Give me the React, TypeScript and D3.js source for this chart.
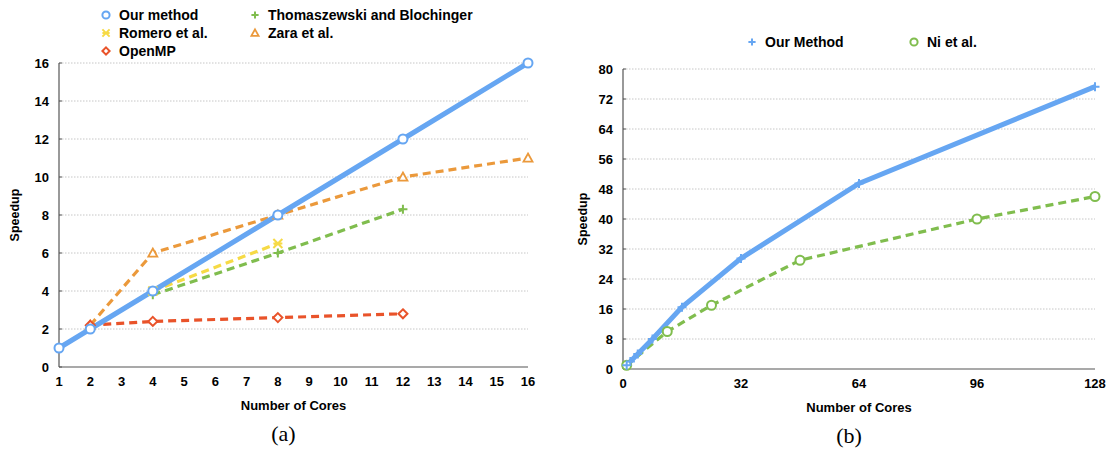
import * as d3 from 'd3';

// ---- data: panel (a)
const coresA = [1, 2, 4, 8, 12, 16];
const ourA = [1, 2, 4, 8, 12, 16];
const thomCores = [4, 8, 12];
const thomA = [3.8, 6, 8.3];
const romeroCores = [4, 8];
const romeroA = [4, 6.5];
const zaraCores = [2, 4, 8, 12, 16];
const zaraA = [2.2, 6, 8, 10, 11];
const ompCores = [2, 4, 8, 12];
const ompA = [2.2, 2.4, 2.6, 2.8];
const xTicksA = d3.range(1, 17);
const yTicksA = [0, 2, 4, 6, 8, 10, 12, 14, 16];

// ---- data: panel (b)
const coresB = [1, 2, 4, 8, 16, 32, 64, 128];
const ourB = [1, 2, 4, 8, 16.5, 29.5, 49.5, 75.3];
const niCores = [1, 12, 24, 48, 96, 128];
const niB = [1, 10, 17, 29, 40, 46];
const xTicksB = [0, 32, 64, 96, 128];
const yTicksB = [0, 8, 16, 24, 32, 40, 48, 56, 64, 72, 80];

const BLUE = '#66a6f2';
const GREEN = '#80bd4e';
const YELLOW = '#f6da45';
const ORANGE = '#eb993b';
const RED = '#e9532a';
const FONT = '"Liberation Sans", Arial, Helvetica, sans-serif';

type Pt = [number, number];
const zip = (xs: number[], ys: number[]): Pt[] => xs.map((x, i) => [x, ys[i]]);

function Marker({ kind, x, y, color, s = 4.5 }: { kind: string; x: number; y: number; color: string; s?: number }) {
  if (kind === 'circle')
    return <circle cx={x} cy={y} r={s} fill="#fff" stroke={color} strokeWidth={2} />;
  if (kind === 'plus')
    return (
      <path d={`M${x - s},${y}H${x + s}M${x},${y - s}V${y + s}`} stroke={color} strokeWidth={2} fill="none" />
    );
  if (kind === 'star')
    return (
      <path
        d={`M${x - s},${y - s}L${x + s},${y + s}M${x - s},${y + s}L${x + s},${y - s}M${x - s},${y}H${x + s}`}
        stroke={color}
        strokeWidth={2}
        fill="none"
      />
    );
  if (kind === 'tri')
    return (
      <path d={`M${x},${y - s}L${x + s},${y + s * 0.8}L${x - s},${y + s * 0.8}Z`} fill="#fff" stroke={color} strokeWidth={1.8} />
    );
  return <path d={`M${x},${y - s}L${x + s},${y}L${x},${y + s}L${x - s},${y}Z`} fill="#fff" stroke={color} strokeWidth={2} />;
}

interface Series {
  pts: Pt[];
  color: string;
  marker: string;
  solid?: boolean;
}

function Panel({
  left, right, top, bottom, xDomain, yDomain, xTicks, yTicks, series, titleX, caption,
}: {
  left: number; right: number; top: number; bottom: number;
  xDomain: [number, number]; yDomain: [number, number];
  xTicks: number[]; yTicks: number[]; series: Series[]; titleX: number; caption: string;
}) {
  const x = d3.scaleLinear().domain(xDomain).range([left, right]);
  const y = d3.scaleLinear().domain(yDomain).range([bottom, top]);
  const line = d3.line<Pt>().x((d) => x(d[0])).y((d) => y(d[1]));
  const ordered = [...series.filter((s) => !s.solid), ...series.filter((s) => s.solid)];
  return (
    <g>
      {yTicks.map((t) => (
        <g key={t}>
          {t > 0 && (
            <line x1={left} x2={right} y1={y(t)} y2={y(t)} stroke="#b8b8b8" strokeWidth={0.8} strokeDasharray="1.5,1.5" />
          )}
          <line x1={left} x2={left + 3} y1={y(t)} y2={y(t)} stroke="#555" />
          <text x={left - 10} y={y(t)} dy="0.35em" textAnchor="end" fontSize={13} fontWeight="bold">
            {t}
          </text>
        </g>
      ))}
      <line x1={left} x2={left} y1={top} y2={bottom} stroke="#555" strokeWidth={1.2} />
      <line x1={left} x2={right} y1={bottom} y2={bottom} stroke="#555" strokeWidth={1.2} />
      {xTicks.map((t) => (
        <text key={t} x={x(t)} y={bottom + 19} textAnchor="middle" fontSize={13} fontWeight="bold">
          {t}
        </text>
      ))}
      <text x={(left + right) / 2} y={bottom + 43} textAnchor="middle" fontSize={13} fontWeight="bold">
        Number of Cores
      </text>
      <text
        transform={`translate(${titleX},${(top + bottom) / 2}) rotate(-90)`}
        textAnchor="middle"
        fontSize={12.5}
        fontWeight="bold"
      >
        Speedup
      </text>
      {ordered.map((s, i) => (
        <path
          key={i}
          d={line(s.pts) || ''}
          fill="none"
          stroke={s.color}
          strokeWidth={s.solid ? 5 : 3.2}
          strokeDasharray={s.solid ? undefined : '8,5'}
        />
      ))}
      {ordered.map((s, i) =>
        s.pts.map((p, j) => <Marker key={`${i}-${j}`} kind={s.marker} x={x(p[0])} y={y(p[1])} color={s.color} />),
      )}
      <text x={(left + right) / 2 - 10} y={bottom + 74} textAnchor="middle" fontSize={22} fontFamily="'Liberation Serif', 'DejaVu Serif', serif">
        {caption}
      </text>
    </g>
  );
}

function LegendItem({ x, y, kind, color, label }: { x: number; y: number; kind: string; color: string; label: string }) {
  return (
    <g>
      <Marker kind={kind} x={x} y={y} color={color} s={3.6} />
      <text x={x + 13} y={y} dy="0.35em" fontSize={14} fontWeight="bold">
        {label}
      </text>
    </g>
  );
}

export default function App() {
  const seriesA: Series[] = [
    { pts: zip(thomCores, thomA), color: GREEN, marker: 'plus' },
    { pts: zip(romeroCores, romeroA), color: YELLOW, marker: 'star' },
    { pts: zip(zaraCores, zaraA), color: ORANGE, marker: 'tri' },
    { pts: zip(ompCores, ompA), color: RED, marker: 'diamond' },
    { pts: zip(coresA, ourA), color: BLUE, marker: 'circle', solid: true },
  ];
  const seriesB: Series[] = [
    { pts: zip(niCores, niB), color: GREEN, marker: 'circle' },
    { pts: zip(coresB, ourB), color: BLUE, marker: 'plus', solid: true },
  ];
  return (
    <svg
      width={1109}
      height={450}
      style={{ position: 'absolute', left: 0, top: 0, background: '#fff' }}
      fontFamily={FONT}
    >
      <rect width={1109} height={450} fill="#fff" />
      <LegendItem x={106} y={15} kind="circle" color={BLUE} label="Our method" />
      <LegendItem x={106} y={33} kind="star" color={YELLOW} label="Romero et al." />
      <LegendItem x={106} y={51} kind="diamond" color={RED} label="OpenMP" />
      <LegendItem x={255} y={15} kind="plus" color={GREEN} label="Thomaszewski and Blochinger" />
      <LegendItem x={255} y={33} kind="tri" color={ORANGE} label="Zara et al." />
      <Panel
        left={59} right={528} top={63} bottom={367}
        xDomain={[1, 16]} yDomain={[0, 16]}
        xTicks={xTicksA} yTicks={yTicksA} series={seriesA} titleX={19} caption="(a)"
      />
      <LegendItem x={752} y={42} kind="plus" color={BLUE} label="Our Method" />
      <LegendItem x={914} y={42} kind="circle" color={GREEN} label="Ni et al." />
      <Panel
        left={623} right={1095} top={69} bottom={369}
        xDomain={[0, 128]} yDomain={[0, 80]}
        xTicks={xTicksB} yTicks={yTicksB} series={seriesB} titleX={587} caption="(b)"
      />
    </svg>
  );
}
